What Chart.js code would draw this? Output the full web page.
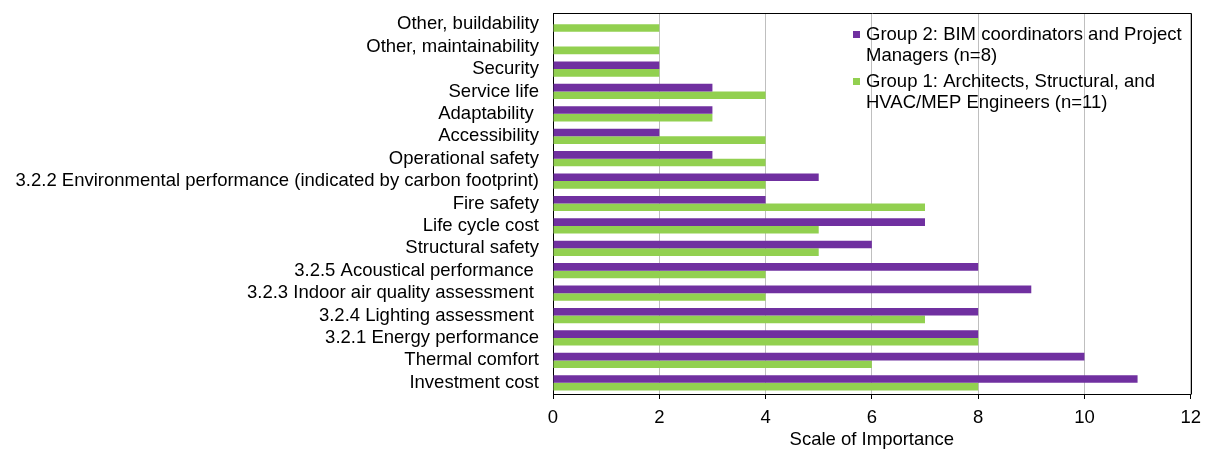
<!DOCTYPE html>
<html>
<head>
<meta charset="utf-8">
<script src="https://cdn.jsdelivr.net/npm/chart.js@4.4.1/dist/chart.umd.min.js"></script>
<style>
  html, body { margin: 0; padding: 0; background: #fff; }
  #wrap { width: 1209px; height: 451px; position: relative; }
</style>
</head>
<body>
<div id="wrap"><canvas id="c" width="1209" height="451"></canvas></div>
<script>
const categories = [
  "Other, buildability",
  "Other, maintainability",
  "Security",
  "Service life",
  "Adaptability ",
  "Accessibility",
  "Operational safety",
  "3.2.2 Environmental performance (indicated by carbon footprint)",
  "Fire safety",
  "Life cycle cost",
  "Structural safety",
  "3.2.5 Acoustical performance ",
  "3.2.3 Indoor air quality assessment ",
  "3.2.4 Lighting assessment ",
  "3.2.1 Energy performance",
  "Thermal comfort",
  "Investment cost"
];
const group2Values = [0, 0, 2, 3, 3, 2, 3, 5, 4, 7, 6, 8, 9, 8, 8, 10, 11];
const group1Values = [2, 2, 2, 4, 3, 4, 4, 4, 7, 5, 5, 4, 4, 7, 8, 6, 8];
const group2Label = ["Group 2: BIM coordinators and Project", "Managers (n=8)"];
const group1Label = ["Group 1: Architects, Structural, and", "HVAC/MEP Engineers (n=11)"];
const xTicks = [0, 2, 4, 6, 8, 10, 12];
const xTitle = "Scale of Importance";

const FONT = "'Liberation Sans', Arial, sans-serif";
const FS = 18.5;

const frame = {
  id: 'frame',
  afterDatasetsDraw(chart) {
    const {ctx, chartArea: a} = chart;
    ctx.save();
    ctx.strokeStyle = '#000';
    ctx.lineWidth = 1;
    ctx.beginPath();
    ctx.moveTo(Math.round(a.left) + 0.5, Math.round(a.top) + 0.5);
    ctx.lineTo(Math.round(a.right) + 0.5, Math.round(a.top) + 0.5);
    ctx.lineTo(Math.round(a.right) + 0.5, Math.round(a.bottom) + 0.5);
    ctx.stroke();
    ctx.restore();
  }
};

const boxLegend = {
  id: 'boxLegend',
  afterDraw(chart) {
    const {ctx} = chart;
    const entries = [
      {color: chart.data.datasets[0].backgroundColor, lines: group2Label},
      {color: chart.data.datasets[1].backgroundColor, lines: group1Label}
    ];
    ctx.save();
    ctx.font = FS + 'px ' + FONT;
    ctx.textBaseline = 'middle';
    let y = 35;
    const x0 = 853, tx = 866, lh = 21;
    entries.forEach(e => {
      ctx.fillStyle = e.color;
      ctx.fillRect(x0, y - 4, 7, 7);
      ctx.fillStyle = '#000';
      e.lines.forEach((ln, i) => ctx.fillText(ln, tx, y + i * lh));
      y += 2 * lh + 5;
    });
    ctx.restore();
  }
};

new Chart(document.getElementById('c'), {
  type: 'bar',
  data: {
    labels: categories,
    datasets: [
      { label: group2Label.join(' '), data: group2Values, backgroundColor: '#7030A0',
        categoryPercentage: 0.68, barPercentage: 1.0 },
      { label: group1Label.join(' '), data: group1Values, backgroundColor: '#92D050',
        categoryPercentage: 0.68, barPercentage: 1.0 }
    ]
  },
  options: {
    indexAxis: 'y',
    responsive: false,
    animation: false,
    devicePixelRatio: 1,
    layout: { padding: { top: 13, right: 16, left: 0, bottom: 0 } },
    plugins: { legend: { display: false }, tooltip: { enabled: false } },
    scales: {
      x: {
        min: 0, max: 12,
        afterBuildTicks(scale) { scale.ticks = xTicks.map(v => ({value: v})); },
        afterFit(scale) { scale.height = 57; },
        grid: { color: '#BFBFBF', lineWidth: 1, drawTicks: true, tickLength: 5, tickColor: '#000' },
        border: { display: true, color: '#000', width: 1 },
        ticks: { color: '#000', font: { family: FONT, size: FS }, padding: 8, maxRotation: 0 },
        title: { display: true, text: xTitle, color: '#000', font: { family: FONT, size: FS }, padding: { top: 2, bottom: 0 } }
      },
      y: {
        afterFit(scale) { scale.width = 553; scale.paddingTop = 0; scale.paddingBottom = 0; },
        grid: { display: false, drawTicks: false },
        border: { display: true, color: '#000', width: 1 },
        ticks: { color: '#000', font: { family: FONT, size: FS }, padding: 14, autoSkip: false }
      }
    }
  },
  plugins: [frame, boxLegend]
});
</script>
</body>
</html>
